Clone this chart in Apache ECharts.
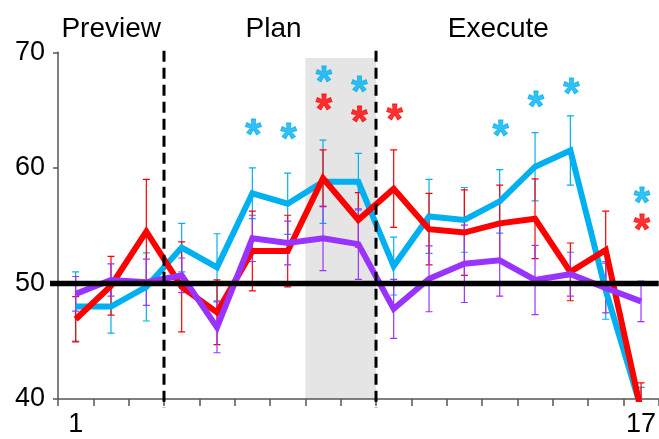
<!DOCTYPE html>
<html>
<head>
<meta charset="utf-8">
<script src="https://cdn.jsdelivr.net/npm/echarts@6/dist/echarts.min.js"></script>
<style>
  html, body { margin: 0; padding: 0; background: #fff; }
  #chart { width: 659px; height: 439px; }
</style>
</head>
<body>
<div id="chart"></div>
<script>
// Trial bins 1..17
const categories = ['1','2','3','4','5','6','7','8','9','10','11','12','13','14','15','16','17'];
const yTicks = [40, 50, 60, 70];

// Group means and error half-widths
const cyanMean   = [48.0, 48.0, 49.7, 53.1, 51.4, 57.8, 56.9, 58.8, 58.8, 51.5, 55.8, 55.5, 57.1, 60.1, 61.5, 49.4, 39.2];
const cyanErr    = [3.0, 2.3, 2.95, 2.1, 2.9, 2.2, 2.65, 3.6, 2.45, 2.5, 3.2, 2.8, 2.75, 2.95, 3.0, 2.5, 1.8];
const redMean    = [46.9, 49.8, 54.5, 49.7, 47.5, 52.8, 52.8, 59.1, 55.5, 58.2, 54.7, 54.4, 55.2, 55.6, 51.0, 52.9, 39.0];
const redErr     = [1.95, 2.55, 4.5, 3.9, 2.8, 3.45, 3.1, 2.45, 2.35, 3.35, 3.1, 3.7, 3.3, 3.45, 2.5, 3.35, 2.4];
const purpleMean = [49.1, 50.3, 50.1, 50.7, 46.2, 53.9, 53.5, 53.9, 53.4, 47.8, 50.4, 51.7, 52.0, 50.3, 50.8, 49.6, 48.45];
const purpleErr  = [1.5, 1.4, 2.0, 1.5, 2.2, 2.0, 1.9, 2.8, 3.05, 2.55, 2.85, 3.35, 3.1, 3.0, 1.9, 2.15, 1.75];

// Significance markers: [bin, height]
const cyanStars = [['6', 63.4], ['7', 63.1], ['8', 68.0], ['9', 67.1], ['13', 63.3], ['14', 65.85], ['15', 67.0], ['17', 57.55]];
const redStars  = [['8', 65.55], ['9', 64.55], ['10', 64.7], ['17', 55.2]];

// Phase layout (bin boundaries on a continuous 0.5..17.5 scale)
const phaseNames = ['Preview', 'Plan', 'Execute'];
const phaseBounds = [3.5, 9.5];
const highlightSpan = [7.5, 9.5, 69.5, 40];
const chanceLevel = 50;

const COLORS = { cyan: '#00b0f0', red: '#ff0000', purple: '#9933ff' };
const FONT = "'Liberation Sans', Arial, sans-serif";

const chart = echarts.init(document.getElementById('chart'), null, { renderer: 'canvas' });

function errorBarSeries(color, mean, err) {
  return {
    type: 'custom',
    clip: true,
    z: 2,
    silent: true,
    data: mean.map((m, i) => [i, m - err[i], m + err[i]]),
    encode: { x: 0, y: [1, 2] },
    renderItem(params, api) {
      const i = api.value(0);
      const lo = api.coord([i, api.value(1)]);
      const hi = api.coord([i, api.value(2)]);
      const w = 3.5;
      const st = { stroke: color, lineWidth: 1.2 };
      return {
        type: 'group',
        children: [
          { type: 'line', shape: { x1: lo[0], y1: lo[1], x2: hi[0], y2: hi[1] }, style: st },
          { type: 'line', shape: { x1: lo[0] - w, y1: lo[1], x2: lo[0] + w, y2: lo[1] }, style: st },
          { type: 'line', shape: { x1: hi[0] - w, y1: hi[1], x2: hi[0] + w, y2: hi[1] }, style: st }
        ]
      };
    }
  };
}

function lineSeries(color, mean, z) {
  return {
    type: 'line',
    data: mean,
    symbol: 'none',
    z: z,
    silent: true,
    lineStyle: { color: color, width: 6, cap: 'butt', join: 'miter' }
  };
}

function starSeries(color, pts) {
  return {
    type: 'scatter',
    data: pts,
    symbol: 'circle',
    symbolSize: 2,
    itemStyle: { color: 'rgba(0,0,0,0)' },
    z: 8,
    silent: true,
    label: {
      show: true,
      position: 'inside',
      formatter: '*',
      color: color,
      fontFamily: FONT,
      fontWeight: 'bold',
      fontSize: 42,
      textBorderColor: color,
      textBorderWidth: 0.8,
      offset: [1, 8]
    }
  };
}

const option = {
  animation: false,
  backgroundColor: '#fff',
  grid: { left: 58, top: 52.3, width: 602.7, height: 346.7, containLabel: false },
  xAxis: [
    {
      type: 'category',
      data: categories,
      boundaryGap: true,
      axisLine: { lineStyle: { color: '#555', width: 1.5 } },
      axisTick: { show: true, interval: 0, length: 7, lineStyle: { color: '#555', width: 1.5 } },
      axisLabel: {
        interval: 0,
        margin: 12,
        color: '#000',
        fontFamily: FONT,
        fontSize: 27,
        formatter: (v, i) => (i === 0 || i === categories.length - 1) ? v : ''
      },
      splitLine: { show: false }
    },
    { type: 'value', min: 0.5, max: 17.5, show: false }
  ],
  yAxis: {
    type: 'value',
    min: yTicks[0],
    max: yTicks[yTicks.length - 1],
    interval: 10,
    axisLine: { show: true, lineStyle: { color: '#555', width: 1.5 } },
    axisTick: { show: true, length: 5, lineStyle: { color: '#555', width: 1.5 } },
    axisLabel: { margin: 13, color: '#000', fontFamily: FONT, fontSize: 27 },
    splitLine: { show: false }
  },
  graphic: [
    { type: 'text', x: 111.2, y: 29.5, style: { text: phaseNames[0], fill: '#000', font: '28px ' + FONT, align: 'center', verticalAlign: 'middle' } },
    { type: 'text', x: 273.5, y: 29.5, style: { text: phaseNames[1], fill: '#000', font: '28px ' + FONT, align: 'center', verticalAlign: 'middle' } },
    { type: 'text', x: 498.3, y: 29.5, style: { text: phaseNames[2], fill: '#000', font: '28px ' + FONT, align: 'center', verticalAlign: 'middle' } }
  ],
  series: [
    // shaded window
    {
      type: 'custom',
      xAxisIndex: 1,
      z: 0,
      silent: true,
      data: [highlightSpan],
      renderItem(params, api) {
        const a = api.coord([api.value(0), api.value(2)]);
        const b = api.coord([api.value(1), api.value(3)]);
        return { type: 'rect', shape: { x: a[0], y: a[1], width: b[0] - a[0], height: b[1] - a[1] }, style: { fill: '#e5e5e5' } };
      }
    },
    errorBarSeries(COLORS.cyan, cyanMean, cyanErr),
    errorBarSeries(COLORS.red, redMean, redErr),
    errorBarSeries(COLORS.purple, purpleMean, purpleErr),
    lineSeries(COLORS.cyan, cyanMean, 3),
    lineSeries(COLORS.red, redMean, 4),
    lineSeries(COLORS.purple, purpleMean, 5),
    // phase boundaries
    {
      type: 'custom',
      xAxisIndex: 1,
      z: 6,
      silent: true,
      clip: false,
      data: phaseBounds.map(b => [b]),
      renderItem(params, api) {
        const x = api.coord([api.value(0), 70])[0];
        const top = api.coord([api.value(0), 70])[1];
        const bottom = api.coord([api.value(0), 40])[1];
        return { type: 'line', shape: { x1: x, y1: top - 1.5, x2: x, y2: bottom + 9 }, style: { stroke: '#000', lineWidth: 3, lineDash: [11, 6] } };
      }
    },
    // chance level
    {
      type: 'custom',
      xAxisIndex: 1,
      z: 7,
      silent: true,
      clip: false,
      data: [[chanceLevel]],
      renderItem(params, api) {
        const y = api.coord([1, api.value(0)])[1];
        const cs = params.coordSys;
        return { type: 'line', shape: { x1: cs.x - 8, y1: y, x2: cs.x + cs.width, y2: y }, style: { stroke: '#000', lineWidth: 5.5 } };
      }
    },
    starSeries(COLORS.cyan, cyanStars),
    starSeries(COLORS.red, redStars)
  ]
};

chart.setOption(option);
</script>
</body>
</html>
